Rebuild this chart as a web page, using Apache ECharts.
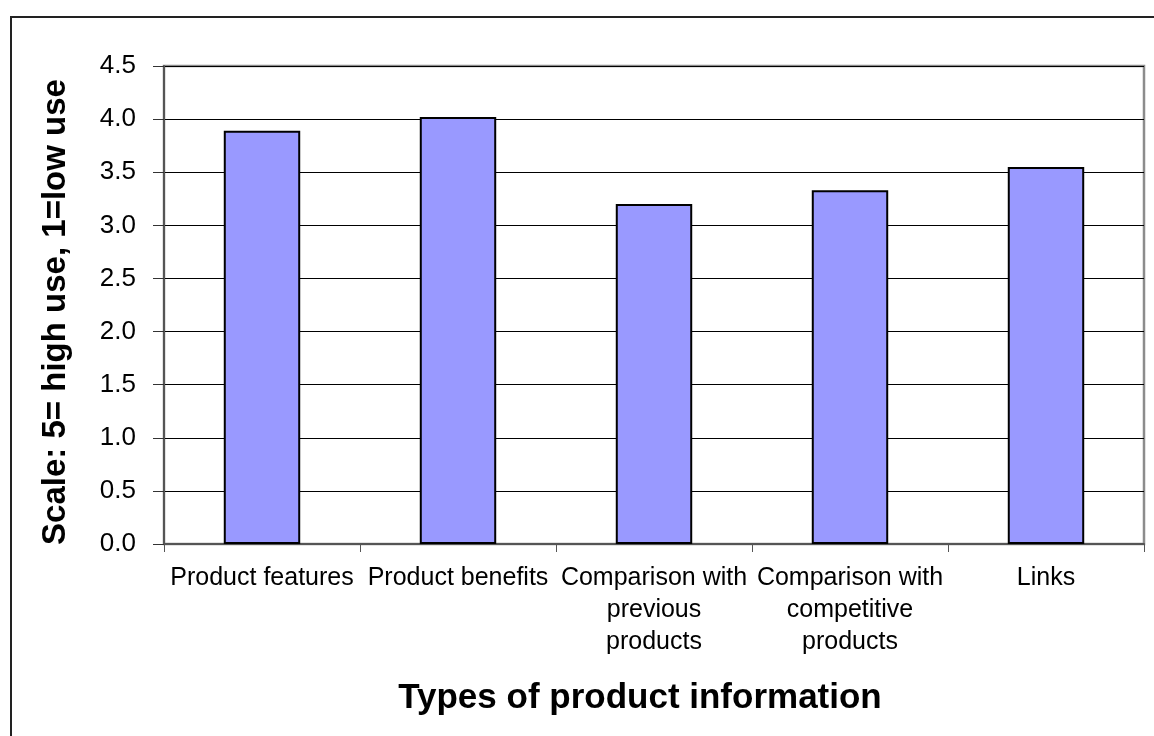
<!DOCTYPE html>
<html>
<head>
<meta charset="utf-8">
<script src="https://cdn.jsdelivr.net/npm/echarts@6/dist/echarts.min.js"></script>
<style>
  html, body { margin: 0; padding: 0; background: #fff; }
  #chart { width: 1154px; height: 736px; }
</style>
</head>
<body>
<div id="chart"></div>
<script>
// Product information types and their mean usage score
const categories = [
  'Product features',
  'Product benefits',
  'Comparison with\nprevious\nproducts',
  'Comparison with\ncompetitive\nproducts',
  'Links'
];
const usageScores = [3.89, 4.02, 3.20, 3.33, 3.55];
const yTicks = { min: 0, max: 4.5, interval: 0.5 };

const chart = echarts.init(document.getElementById('chart'));
const font = '"Liberation Sans", Arial, sans-serif';

chart.setOption({
  backgroundColor: '#ffffff',
  animation: false,
  graphic: [{
    type: 'rect',
    shape: { x: 11, y: 17, width: 1300, height: 900 },
    style: { fill: 'none', stroke: '#222', lineWidth: 2 },
    silent: true,
    z: -10
  }],
  grid: {
    left: 164, right: 10, top: 66, bottom: 192,
    show: true, borderColor: '#8c8c8c', borderWidth: 2.5,
    containLabel: false
  },
  xAxis: {
    type: 'category',
    data: categories,
    boundaryGap: true,
    name: 'Types of product information',
    nameLocation: 'middle',
    nameGap: 137,
    nameTextStyle: {
      fontFamily: font, fontSize: 35, fontWeight: 'bold', color: '#000',
      padding: [0, 28, 0, 0]
    },
    axisLine: { lineStyle: { color: '#555', width: 2 } },
    axisTick: { show: true, length: 8, lineStyle: { color: '#555', width: 1 } },
    axisLabel: {
      interval: 0, margin: 18, fontFamily: font, fontSize: 25,
      color: '#000', lineHeight: 32, align: 'center'
    }
  },
  yAxis: {
    type: 'value',
    min: yTicks.min, max: yTicks.max, interval: yTicks.interval,
    name: 'Scale: 5= high use, 1=low use',
    nameLocation: 'middle',
    nameGap: 92,
    nameRotate: 90,
    nameTextStyle: {
      fontFamily: font, fontSize: 33, fontWeight: 'bold', color: '#000',
      padding: [0, 14, 0, 0]
    },
    axisLine: { show: true, lineStyle: { color: '#555', width: 2 } },
    axisTick: { show: true, length: 11, lineStyle: { color: '#333', width: 1 } },
    axisLabel: {
      margin: 28, fontFamily: font, fontSize: 26, color: '#000',
      formatter: v => v.toFixed(1)
    },
    splitLine: { show: true, lineStyle: { color: '#000', width: 1 } }
  },
  series: [{
    type: 'bar',
    data: usageScores,
    barWidth: '39%',
    itemStyle: { color: '#9999ff', borderColor: '#000', borderWidth: 2 }
  }]
});
</script>
</body>
</html>
